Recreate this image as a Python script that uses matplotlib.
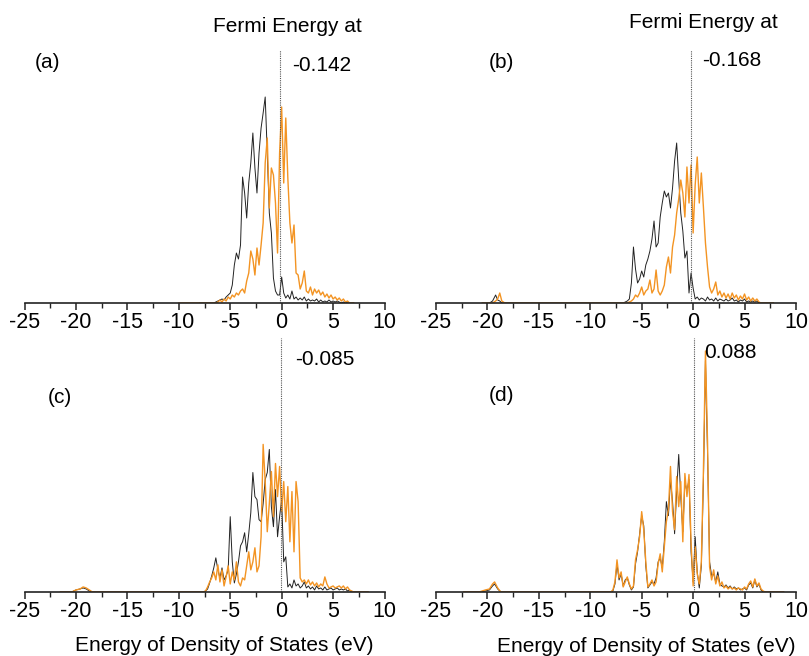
import numpy as np
import matplotlib.pyplot as plt
from matplotlib.ticker import MultipleLocator

plt.rcParams['font.family'] = ['Liberation Sans', 'DejaVu Sans']
plt.rcParams['axes.unicode_minus'] = False

# common energy grid (eV) for the valence/conduction region
energy = np.round(np.arange(-8.0, 7.01, 0.2), 1)

# density of states (arb. units), one row per 2 eV starting at -8 eV
dos_a_black = [
    0, 0, 0, 0, 0, 0, 0, 0, 1, 2,
    3, 4, 3, 6, 8, 10, 18, 38, 50, 44,
    58, 126, 110, 85, 120, 140, 170, 135, 110, 150,
    175, 190, 206, 150, 90, 70, 25, 12, 8, 8,
    26, 10, 5, 8, 4, 12, 4, 6, 3, 5,
    3, 6, 2, 4, 2, 3, 2, 4, 1, 3,
    1, 2, 1, 3, 1, 2, 1, 2, 1, 0,
    1, 0, 1, 0, 0, 0]
dos_a_orange = [
    0, 0, 0, 0, 0, 0, 0, 0, 0, 1,
    3, 1, 4, 2, 6, 4, 8, 6, 10, 8,
    12, 14, 10, 22, 30, 52, 44, 28, 55, 38,
    58, 80, 140, 165, 95, 135, 128, 100, 50, 150,
    196, 120, 185, 125, 80, 60, 78, 30, 28, 14,
    20, 32, 12, 10, 16, 8, 14, 10, 13, 8,
    11, 6, 9, 5, 8, 4, 6, 3, 5, 2,
    4, 1, 2, 0, 0, 0]

dos_b_black = [
    0, 0, 0, 0, 0, 0, 0, 1, 2, 4,
    20, 56, 34, 20, 24, 32, 26, 38, 44, 52,
    64, 82, 56, 60, 86, 100, 112, 106, 110, 95,
    115, 142, 160, 124, 90, 72, 45, 52, 10, 30,
    15, 4, 6, 3, 5, 4, 2, 6, 3, 4,
    2, 5, 2, 4, 3, 2, 4, 2, 3, 5,
    2, 3, 1, 3, 2, 4, 1, 2, 1, 2,
    1, 2, 0, 0, 0, 0]
dos_b_orange = [
    0, 0, 0, 0, 0, 0, 0, 0, 0, 1,
    2, 4, 8, 6, 10, 16, 8, 12, 14, 23,
    10, 14, 33, 12, 8, 12, 18, 36, 46, 30,
    56, 68, 90, 104, 123, 110, 86, 136, 100, 138,
    70, 118, 146, 100, 130, 96, 60, 36, 16, 10,
    14, 21, 8, 12, 6, 10, 5, 9, 4, 10,
    5, 8, 3, 7, 4, 9, 3, 6, 2, 5,
    2, 4, 1, 0, 0, 0]

dos_c_black = [
    0, 0, 0, 1, 3, 9, 16, 24, 34, 22,
    14, 24, 12, 16, 22, 75, 30, 9, 18, 30,
    46, 50, 59, 40, 58, 79, 119, 95, 92, 72,
    70, 88, 112, 119, 142, 85, 65, 102, 55, 75,
    92, 30, 35, 5, 8, 4, 12, 6, 8, 4,
    6, 10, 4, 6, 3, 5, 2, 6, 3, 4,
    2, 5, 2, 3, 4, 2, 3, 4, 2, 3,
    2, 3, 1, 2, 0, 0]
dos_c_orange = [
    0, 0, 0, 1, 5, 10, 14, 20, 12, 27,
    10, 22, 6, 15, 26, 8, 20, 12, 30, 10,
    6, 14, 12, 26, 40, 22, 30, 44, 20, 26,
    55, 147, 110, 60, 88, 120, 75, 128, 95, 125,
    80, 110, 70, 105, 50, 100, 40, 110, 90, 14,
    10, 12, 8, 12, 7, 10, 6, 9, 5, 8,
    6, 15, 8, 4, 5, 6, 4, 5, 6, 4,
    6, 3, 5, 2, 1, 0]

dos_d_black = [
    0, 1, 8, 28, 12, 18, 6, 12, 14, 7,
    2, 5, 28, 40, 58, 76, 66, 26, 4, 7,
    10, 8, 14, 30, 34, 24, 50, 90, 76, 112,
    90, 58, 100, 137, 95, 60, 110, 100, 112, 40,
    10, 55, 20, 4, 26, 110, 230, 140, 30, 16,
    18, 10, 20, 8, 6, 5, 7, 4, 6, 3,
    5, 3, 4, 2, 3, 4, 2, 7, 9, 4,
    12, 5, 8, 2, 0, 0]
dos_d_orange = [
    0, 2, 10, 32, 14, 20, 5, 10, 15, 8,
    3, 6, 32, 42, 55, 80, 62, 30, 5, 8,
    12, 6, 10, 28, 38, 20, 45, 70, 82, 125,
    80, 62, 115, 85, 110, 50, 118, 95, 117, 50,
    6, 45, 18, 8, 30, 120, 240, 150, 25, 12,
    22, 8, 16, 6, 10, 4, 6, 3, 5, 3,
    4, 2, 4, 3, 2, 5, 3, 8, 11, 5,
    13, 6, 9, 3, 1, 0]

# small semicore feature near -19 eV
blip_b_e = [-19.8, -19.5, -19.2, -19.0, -18.8, -18.6, -18.3]
blip_b_black = [0, 2, 8, 3, 2, 0, 0]
blip_b_orange = [0, 0, 2, 4, 10, 2, 0]
blip_c_e = [-20.4, -20.0, -19.6, -19.3, -19.0, -18.7, -18.4]
blip_c_black = [0, 2, 3, 4, 3, 1, 0]
blip_c_orange = [0, 2, 3, 5, 4, 2, 0]
blip_d_e = [-20.8, -20.2, -19.8, -19.5, -19.3, -19.0, -18.7]
blip_d_black = [0, 1, 2, 6, 8, 3, 0]
blip_d_orange = [0, 2, 3, 8, 10, 4, 0]

# energy range covered by each calculation
span_a = (-10.0, 7.0)
span_b = (-20.5, 7.8)
span_c = (-21.5, 8.4)
span_d = (-22.3, 8.8)

fermi = [-0.142, -0.168, -0.085, 0.088]
fermi_labels = ['-0.142', '-0.168', '-0.085', '0.088']
panel_tags = ['(a)', '(b)', '(c)', '(d)']

ORANGE = '#f39423'
BLACK = '#222222'
FS = 15

panels = [
    dict(black=dos_a_black, orange=dos_a_orange, blip_e=[], blip_k=[], blip_o=[],
         span=span_a, black_span=(-8.0, 7.0),
         pos=[0.0303, 0.5381, 0.445, 0.3857],
         tag_xy=(-22.76, 0.929), val_xy=(3.92, 0.917), fermi_xy=(0.57, 1.072)),
    dict(black=dos_b_black, orange=dos_b_orange, blip_e=blip_b_e,
         blip_k=blip_b_black, blip_o=blip_b_orange,
         span=span_b, black_span=span_b,
         pos=[0.5389, 0.5381, 0.445, 0.3857],
         tag_xy=(-18.65, 0.930), val_xy=(3.71, 0.938), fermi_xy=(0.96, 1.086)),
    dict(black=dos_c_black, orange=dos_c_orange, blip_e=blip_c_e,
         blip_k=blip_c_black, blip_o=blip_c_orange,
         span=span_c, black_span=span_c,
         pos=[0.0303, 0.0976, 0.445, 0.3872],
         tag_xy=(-21.6, 0.744), val_xy=(4.22, 0.894), xlab_xy=(-5.56, -0.232)),
    dict(black=dos_d_black, orange=dos_d_orange, blip_e=blip_d_e,
         blip_k=blip_d_black, blip_o=blip_d_orange,
         span=span_d, black_span=span_d,
         pos=[0.5389, 0.0976, 0.445, 0.3872],
         tag_xy=(-18.6, 0.752), val_xy=(3.58, 0.920), xlab_xy=(-4.52, -0.235)),
]


def curve(lo, hi, blip_e, blip_y, vals):
    x = np.concatenate([[lo], blip_e, energy, [hi]])
    y = np.concatenate([[0], blip_y, vals, [0]])
    return x, y


fig = plt.figure(figsize=(8.09, 6.56), dpi=100)

for i, p in enumerate(panels):
    ax = fig.add_axes(p['pos'])
    xk, yk = curve(*p['black_span'], p['blip_e'], p['blip_k'], p['black'])
    xo, yo = curve(*p['span'], p['blip_e'], p['blip_o'], p['orange'])
    ax.plot(xk, yk, color=BLACK, lw=0.7)
    ax.plot(xo, yo, color=ORANGE, lw=1.0)
    ax.axvline(fermi[i], color='#555555', lw=0.8, ls=(0, (1, 1)))

    ax.set_xlim(-25, 10)
    ax.set_ylim(0, 253)
    ax.xaxis.set_major_locator(MultipleLocator(5))
    ax.xaxis.set_minor_locator(MultipleLocator(2.5))
    ax.tick_params(axis='x', which='major', direction='out', length=5,
                   width=1.1, color='#222222', labelsize=FS + 0.5, pad=1.5)
    ax.tick_params(axis='x', which='minor', direction='out', length=3.5,
                   width=1.0, color='#222222')
    ax.set_yticks([])
    for s in ('top', 'left', 'right'):
        ax.spines[s].set_visible(False)
    ax.spines['bottom'].set_linewidth(1.2)
    ax.spines['bottom'].set_color('#222222')
    ax.patch.set_alpha(0)

    tr = ax.get_xaxis_transform()
    ax.text(*p['tag_xy'], panel_tags[i], transform=tr, ha='center',
            va='baseline', fontsize=FS)
    ax.text(*p['val_xy'], fermi_labels[i], transform=tr, ha='center',
            va='baseline', fontsize=FS)
    if 'fermi_xy' in p:
        ax.text(*p['fermi_xy'], 'Fermi Energy at', transform=tr, ha='center',
                va='baseline', fontsize=FS)
    if 'xlab_xy' in p:
        ax.text(*p['xlab_xy'], 'Energy of Density of States (eV)', transform=tr,
                ha='center', va='baseline', fontsize=FS)

fig.savefig('out.png', dpi=100)
